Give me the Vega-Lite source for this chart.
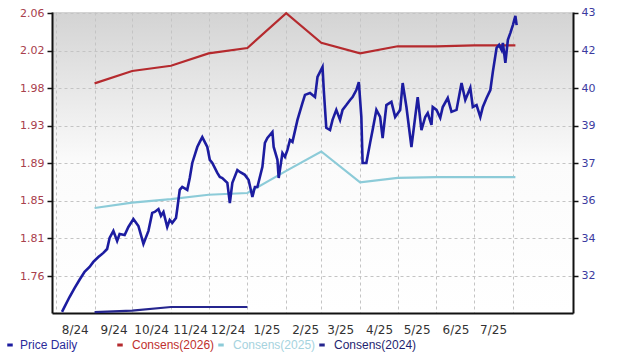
{
  "$schema": "https://vega.github.io/schema/vega-lite/v6.json",
  "width": 521,
  "height": 301,
  "autosize": {"type": "none"},
  "padding": {"left": 52, "top": 12, "right": 47, "bottom": 48},
  "background": "#ffffff",
  "config": {
    "view": {"stroke": null, "fill": {"gradient": "linear", "x1": 0, "y1": 0, "x2": 0, "y2": 1, "stops": [{"offset": 0, "color": "#d3d3d3"}, {"offset": 0.5, "color": "#fbfbfb"}, {"offset": 1, "color": "#ffffff"}]}},
    "axis": {"labelFont": "DejaVu Sans", "labelFontSize": 11, "domainColor": "#111111", "domainWidth": 2, "tickColor": "#111111", "tickWidth": 1.5, "gridColor": "#c4c4c4", "gridDash": [3, 3], "gridWidth": 1, "title": null},
    "legend": {"labelFont": "Liberation Sans", "labelFontSize": 12, "padding": 0, "symbolType": "M-1,0H1", "symbolStrokeWidth": 3, "symbolSize": 30, "labelOffset": 6, "columnPadding": -3, "title": null}
  },
  "datasets": {
    "price": [
      {"date": "2024-08-06", "price": 30.92}, {"date": "2024-08-08", "price": 31.12}, {"date": "2024-08-12", "price": 31.53},
      {"date": "2024-08-16", "price": 31.90}, {"date": "2024-08-20", "price": 32.24}, {"date": "2024-08-24", "price": 32.57},
      {"date": "2024-08-28", "price": 32.77}, {"date": "2024-08-31", "price": 32.98}, {"date": "2024-09-04", "price": 33.18},
      {"date": "2024-09-08", "price": 33.35}, {"date": "2024-09-11", "price": 33.51}, {"date": "2024-09-13", "price": 33.97},
      {"date": "2024-09-16", "price": 34.26}, {"date": "2024-09-19", "price": 33.84}, {"date": "2024-09-21", "price": 34.13},
      {"date": "2024-09-25", "price": 34.09}, {"date": "2024-09-28", "price": 34.42}, {"date": "2024-10-02", "price": 34.75},
      {"date": "2024-10-06", "price": 34.46}, {"date": "2024-10-08", "price": 34.09}, {"date": "2024-10-10", "price": 33.72},
      {"date": "2024-10-14", "price": 34.26}, {"date": "2024-10-17", "price": 35.00}, {"date": "2024-10-19", "price": 35.04},
      {"date": "2024-10-22", "price": 35.16}, {"date": "2024-10-24", "price": 34.88}, {"date": "2024-10-26", "price": 35.04},
      {"date": "2024-10-29", "price": 34.42}, {"date": "2024-10-31", "price": 34.71}, {"date": "2024-11-02", "price": 34.59},
      {"date": "2024-11-05", "price": 34.79}, {"date": "2024-11-06", "price": 35.16}, {"date": "2024-11-08", "price": 35.95},
      {"date": "2024-11-10", "price": 36.07}, {"date": "2024-11-14", "price": 35.95}, {"date": "2024-11-16", "price": 36.44},
      {"date": "2024-11-18", "price": 37.06}, {"date": "2024-11-22", "price": 37.72}, {"date": "2024-11-24", "price": 37.93},
      {"date": "2024-11-26", "price": 38.13}, {"date": "2024-11-30", "price": 37.72}, {"date": "2024-12-02", "price": 37.19},
      {"date": "2024-12-04", "price": 37.06}, {"date": "2024-12-08", "price": 36.65}, {"date": "2024-12-10", "price": 36.48},
      {"date": "2024-12-12", "price": 36.44}, {"date": "2024-12-16", "price": 36.24}, {"date": "2024-12-18", "price": 35.41},
      {"date": "2024-12-20", "price": 36.24}, {"date": "2024-12-24", "price": 36.77}, {"date": "2024-12-26", "price": 36.69},
      {"date": "2024-12-30", "price": 36.57}, {"date": "2025-01-02", "price": 36.36}, {"date": "2025-01-05", "price": 35.66},
      {"date": "2025-01-07", "price": 36.07}, {"date": "2025-01-09", "price": 36.07}, {"date": "2025-01-13", "price": 36.90},
      {"date": "2025-01-15", "price": 37.89}, {"date": "2025-01-17", "price": 38.09}, {"date": "2025-01-21", "price": 38.34},
      {"date": "2025-01-22", "price": 37.72}, {"date": "2025-01-25", "price": 37.19}, {"date": "2025-01-26", "price": 36.44},
      {"date": "2025-01-29", "price": 37.47}, {"date": "2025-01-31", "price": 37.31}, {"date": "2025-02-02", "price": 37.60},
      {"date": "2025-02-04", "price": 38.01}, {"date": "2025-02-06", "price": 37.93}, {"date": "2025-02-10", "price": 38.84},
      {"date": "2025-02-14", "price": 39.54}, {"date": "2025-02-16", "price": 39.87}, {"date": "2025-02-20", "price": 39.95},
      {"date": "2025-02-24", "price": 39.78}, {"date": "2025-02-26", "price": 40.61}, {"date": "2025-03-02", "price": 41.02},
      {"date": "2025-03-03", "price": 40.07}, {"date": "2025-03-05", "price": 38.51}, {"date": "2025-03-08", "price": 38.42},
      {"date": "2025-03-10", "price": 38.84}, {"date": "2025-03-13", "price": 39.25}, {"date": "2025-03-16", "price": 38.84},
      {"date": "2025-03-18", "price": 39.25}, {"date": "2025-03-21", "price": 39.45}, {"date": "2025-03-24", "price": 39.66},
      {"date": "2025-03-26", "price": 39.78}, {"date": "2025-03-29", "price": 40.07}, {"date": "2025-03-31", "price": 40.40},
      {"date": "2025-04-02", "price": 38.96}, {"date": "2025-04-03", "price": 37.06}, {"date": "2025-04-06", "price": 37.06},
      {"date": "2025-04-09", "price": 37.89}, {"date": "2025-04-11", "price": 38.42}, {"date": "2025-04-14", "price": 39.25},
      {"date": "2025-04-17", "price": 38.96}, {"date": "2025-04-19", "price": 38.09}, {"date": "2025-04-22", "price": 39.45},
      {"date": "2025-04-26", "price": 39.58}, {"date": "2025-04-29", "price": 38.96}, {"date": "2025-05-03", "price": 39.25},
      {"date": "2025-05-05", "price": 40.36}, {"date": "2025-05-08", "price": 39.37}, {"date": "2025-05-12", "price": 37.72},
      {"date": "2025-05-15", "price": 38.96}, {"date": "2025-05-17", "price": 39.78}, {"date": "2025-05-20", "price": 38.42},
      {"date": "2025-05-23", "price": 38.96}, {"date": "2025-05-25", "price": 39.12}, {"date": "2025-05-28", "price": 38.63},
      {"date": "2025-05-29", "price": 39.37}, {"date": "2025-06-01", "price": 39.25}, {"date": "2025-06-04", "price": 38.92},
      {"date": "2025-06-06", "price": 39.37}, {"date": "2025-06-10", "price": 39.74}, {"date": "2025-06-13", "price": 39.17},
      {"date": "2025-06-17", "price": 39.25}, {"date": "2025-06-21", "price": 40.36}, {"date": "2025-06-24", "price": 39.66},
      {"date": "2025-06-28", "price": 40.16}, {"date": "2025-06-30", "price": 39.37}, {"date": "2025-07-03", "price": 39.45},
      {"date": "2025-07-06", "price": 38.96}, {"date": "2025-07-08", "price": 39.37}, {"date": "2025-07-11", "price": 39.74},
      {"date": "2025-07-14", "price": 40.07}, {"date": "2025-07-16", "price": 40.82}, {"date": "2025-07-19", "price": 41.81},
      {"date": "2025-07-21", "price": 41.93}, {"date": "2025-07-23", "price": 41.72}, {"date": "2025-07-24", "price": 42.01},
      {"date": "2025-07-26", "price": 41.19}, {"date": "2025-07-28", "price": 42.14}, {"date": "2025-07-30", "price": 42.43},
      {"date": "2025-08-01", "price": 42.75}, {"date": "2025-08-03", "price": 43.13}, {"date": "2025-08-04", "price": 42.75}
    ],
    "cons": [
      {"date": "2024-09-01", "eps": 1.982, "series": "Consens(2026)"},
      {"date": "2024-10-01", "eps": 1.996, "series": "Consens(2026)"},
      {"date": "2024-11-01", "eps": 2.002, "series": "Consens(2026)"},
      {"date": "2024-12-01", "eps": 2.016, "series": "Consens(2026)"},
      {"date": "2025-01-01", "eps": 2.022, "series": "Consens(2026)"},
      {"date": "2025-02-01", "eps": 2.0615, "series": "Consens(2026)"},
      {"date": "2025-03-01", "eps": 2.028, "series": "Consens(2026)"},
      {"date": "2025-04-01", "eps": 2.016, "series": "Consens(2026)"},
      {"date": "2025-05-01", "eps": 2.024, "series": "Consens(2026)"},
      {"date": "2025-06-01", "eps": 2.024, "series": "Consens(2026)"},
      {"date": "2025-07-01", "eps": 2.025, "series": "Consens(2026)"},
      {"date": "2025-08-03", "eps": 2.025, "series": "Consens(2026)"},
      {"date": "2024-09-01", "eps": 1.841, "series": "Consens(2025)"},
      {"date": "2024-10-01", "eps": 1.847, "series": "Consens(2025)"},
      {"date": "2024-11-01", "eps": 1.851, "series": "Consens(2025)"},
      {"date": "2024-12-01", "eps": 1.856, "series": "Consens(2025)"},
      {"date": "2025-01-01", "eps": 1.858, "series": "Consens(2025)"},
      {"date": "2025-02-01", "eps": 1.883, "series": "Consens(2025)"},
      {"date": "2025-03-01", "eps": 1.905, "series": "Consens(2025)"},
      {"date": "2025-04-01", "eps": 1.870, "series": "Consens(2025)"},
      {"date": "2025-05-01", "eps": 1.875, "series": "Consens(2025)"},
      {"date": "2025-06-01", "eps": 1.876, "series": "Consens(2025)"},
      {"date": "2025-07-01", "eps": 1.876, "series": "Consens(2025)"},
      {"date": "2025-08-03", "eps": 1.876, "series": "Consens(2025)"},
      {"date": "2024-09-01", "eps": 1.7233, "series": "Consens(2024)"},
      {"date": "2024-10-01", "eps": 1.7248, "series": "Consens(2024)"},
      {"date": "2024-11-01", "eps": 1.729, "series": "Consens(2024)"},
      {"date": "2024-12-01", "eps": 1.729, "series": "Consens(2024)"},
      {"date": "2025-01-01", "eps": 1.729, "series": "Consens(2024)"}
    ]
  },
  "encoding": {
    "x": {
      "field": "date",
      "type": "temporal",
      "scale": {"type": "utc", "domain": [{"year": 2024, "month": 7, "date": 29, "utc": true}, {"year": 2025, "month": 9, "date": 18, "utc": true}]},
      "axis": {
        "values": [
          {"year": 2024, "month": 8, "date": 1, "utc": true}, {"year": 2024, "month": 9, "date": 1, "utc": true},
          {"year": 2024, "month": 10, "date": 1, "utc": true}, {"year": 2024, "month": 11, "date": 1, "utc": true},
          {"year": 2024, "month": 12, "date": 1, "utc": true}, {"year": 2025, "month": 1, "date": 1, "utc": true},
          {"year": 2025, "month": 2, "date": 1, "utc": true}, {"year": 2025, "month": 3, "date": 1, "utc": true},
          {"year": 2025, "month": 4, "date": 1, "utc": true}, {"year": 2025, "month": 5, "date": 1, "utc": true},
          {"year": 2025, "month": 6, "date": 1, "utc": true}, {"year": 2025, "month": 7, "date": 1, "utc": true},
          {"year": 2025, "month": 8, "date": 1, "utc": true}
        ],
        "labelExpr": "utcyear(datum.value) == 2025 && utcmonth(datum.value) == 7 ? '' : utcFormat(datum.value, '%-m/%y')",
        "labelOffset": 19,
        "labelPadding": 11,
        "labelColor": "#333333",
        "labelFontSize": 12,
        "tickSize": 0,
        "grid": true,
        "labelOverlap": false,
        "labelFlush": false
      }
    }
  },
  "layer": [
    {
      "data": {"name": "cons"},
      "mark": {"type": "line", "strokeWidth": 2.2},
      "encoding": {
        "y": {
          "field": "eps",
          "type": "quantitative",
          "scale": {"domain": [1.7222, 2.0628], "zero": false, "nice": false},
          "axis": {"orient": "left", "values": [1.764, 1.8066, 1.8491, 1.8916, 1.9341, 1.9766, 2.0191, 2.0616], "format": ".2f", "labelColor": "#a8404c", "tickSize": 5, "labelPadding": 3, "grid": true}
        },
        "color": {
          "field": "series",
          "type": "nominal",
          "scale": {"domain": ["Consens(2026)", "Consens(2025)", "Consens(2024)"], "range": ["#b52a2e", "#8ccbd8", "#25258e"]},
          "legend": {
            "orient": "none", "direction": "horizontal", "legendX": 62, "legendY": 327,
            "encode": {"labels": {"update": {"fill": {"signal": "datum.value === 'Consens(2026)' ? '#c0302d' : datum.value === 'Consens(2025)' ? '#a6d3de' : '#1f1f70'"}}}}
          }
        }
      }
    },
    {
      "data": {"name": "price"},
      "mark": {"type": "line", "strokeWidth": 2.6},
      "encoding": {
        "y": {
          "field": "price",
          "type": "quantitative",
          "scale": {"domain": [30.87, 43.29], "zero": false, "nice": false},
          "axis": {"orient": "right", "values": [32.4, 33.95, 35.51, 37.05, 38.6, 40.15, 41.7, 43.25], "format": ".0f", "labelColor": "#3b3ba0", "tickSize": 5, "labelPadding": 3, "grid": false}
        },
        "color": {
          "datum": "Price Daily",
          "type": "nominal",
          "scale": {"domain": ["Price Daily"], "range": ["#1c1ca0"]},
          "legend": {"orient": "none", "legendX": -48, "legendY": 327, "labelColor": "#2b2b9a", "labelOffset": 4}
        }
      }
    }
  ],
  "resolve": {"scale": {"y": "independent", "color": "independent"}, "axis": {"y": "independent"}, "legend": {"color": "independent"}}
}
